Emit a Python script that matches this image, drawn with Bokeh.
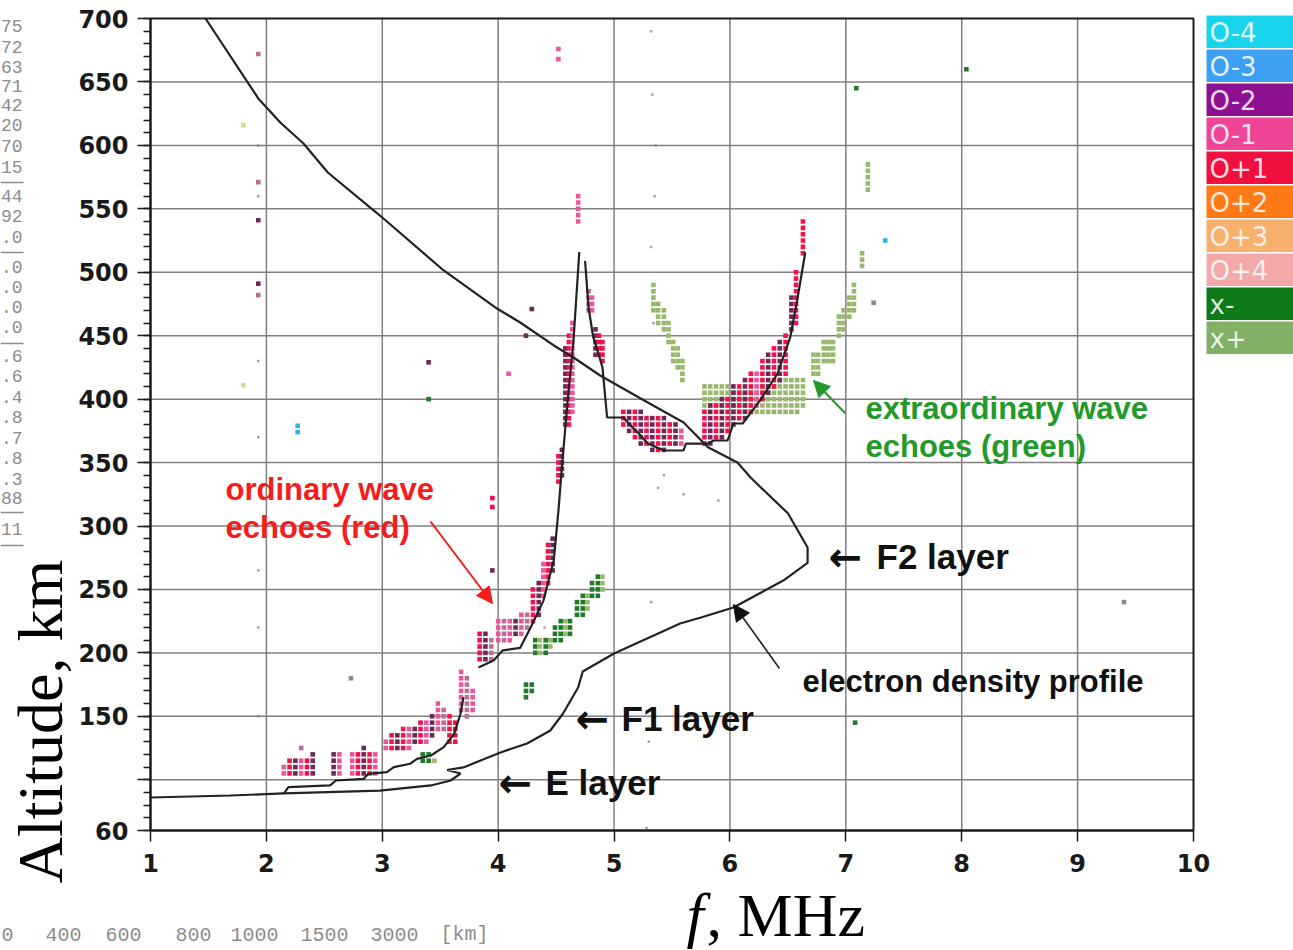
import numpy as np
from math import pi
from bokeh.plotting import figure
from bokeh.models import Range1d, FixedTicker, Label, Arrow, NormalHead, ColumnDataSource, LinearAxis
from bokeh.core.properties import value
from bokeh.embed import file_html
from bokeh.resources import INLINE

# ---------------- data ----------------
x_ticks = [1, 2, 3, 4, 5, 6, 7, 8, 9, 10]
y_ticks = [60, 100, 150, 200, 250, 300, 350, 400, 450, 500, 550, 600, 650, 700]
y_minor = list(range(60, 701, 10))

# electron density profile (plasma frequency MHz, true height km)
prof_f = [1.0, 1.69, 2.15, 2.98, 3.42, 3.59, 3.675, 3.56, 3.70, 4.02, 4.25, 4.45, 4.56, 4.69, 4.73,
          5.0, 5.57, 5.75, 6.03, 6.46, 6.67, 6.67, 6.50, 6.18, 6.065, 5.81, 5.60, 5.23, 4.88, 4.65,
          4.48, 4.19, 3.99, 3.53, 2.98, 2.53, 2.32, 2.12, 1.93, 1.475]
prof_h = [86, 87.6, 89.2, 91.5, 95.5, 99.4, 104.9, 107.7, 109.7, 121.5, 128.6, 138.8, 152.2, 172.7, 185.3,
          199.5, 223.2, 227.9, 235.8, 257, 271, 283, 310, 338, 350, 362, 381.6, 400.5, 418.6, 432.8,
          442.3, 460.4, 471.4, 501.4, 544.7, 578.6, 601.5, 618, 637, 700]

# virtual-height trace, E region (stepped)
ve_f = [2.15, 2.19, 2.55, 2.60, 2.84, 2.88, 3.04, 3.10, 3.24, 3.30, 3.42, 3.53, 3.62, 3.675, 3.70]
ve_h = [89, 94.2, 95.5, 99.4, 100.7, 104.7, 106, 110, 112.6, 116.5, 119.1, 125.7, 136.2, 152, 165]

# virtual-height trace, F region: rising branch and falling branch
vf1_f = [3.83, 3.96, 4.04, 4.19, 4.28, 4.39, 4.48, 4.52, 4.555, 4.60, 4.65, 4.70]
vf1_h = [188.5, 194, 202, 204, 220, 241, 273, 312, 352, 399, 446, 516]
vf2_f = [4.75, 4.78, 4.82, 4.865, 4.90, 4.94, 5.08, 5.16, 5.23, 5.29, 5.43, 5.60, 5.62, 5.81, 5.86,
         5.98, 6.03, 6.11, 6.26, 6.41, 6.52, 6.58, 6.65]
vf2_h = [509, 472, 449, 436, 425, 385.5, 385.5, 377.6, 371.3, 365, 359.5, 359.5, 365, 365, 367.4,
         367.4, 380.8, 380.8, 399, 420, 448.6, 477.7, 515.6]

# echo columns: (frequency MHz, lowest km, highest km, colour key)
e_o_runs = [
    (2.15, 105, 110, 'p'), (2.20, 105, 115, 'r'), (2.25, 105, 115, 'd'), (2.30, 105, 115, 'p'),
    (2.35, 105, 115, 'r'), (2.40, 105, 120, 'd'), (2.30, 125, 125, 'm'),
    (2.58, 105, 120, 'd'), (2.63, 105, 120, 'p'),
    (2.74, 105, 120, 'p'), (2.79, 105, 120, 'r'), (2.84, 105, 125, 'd'), (2.89, 105, 120, 'r'), (2.94, 105, 120, 'p'),
    (3.03, 125, 130, 'p'), (3.08, 125, 135, 'r'), (3.13, 125, 135, 'd'), (3.18, 125, 140, 'r'),
    (3.23, 125, 140, 'p'), (3.28, 130, 140, 'd'), (3.33, 130, 145, 'r'), (3.38, 130, 145, 'p'),
    (3.43, 135, 150, 'd'), (3.48, 140, 160, 'p'), (3.53, 140, 155, 'm'), (3.58, 130, 150, 'r'),
    (3.63, 130, 145, 'r'), (3.68, 155, 185, 'p'), (3.73, 150, 180, 'm'), (3.78, 155, 170, 'p'),
]
f_o_runs = [
    (3.84, 195, 215, 'r'), (3.89, 195, 215, 'd'), (3.94, 195, 210, 'm'),
    (4.00, 210, 225, 'p'), (4.05, 210, 225, 'm'), (4.10, 210, 225, 'p'), (4.15, 215, 225, 'd'),
    (4.20, 215, 230, 'p'), (4.25, 220, 230, 'm'),
    (4.30, 225, 250, 'r'), (4.35, 230, 255, 'd'), (4.39, 245, 270, 'p'), (4.43, 255, 285, 'r'), (4.47, 265, 290, 'd'),
    (4.52, 335, 355, 'r'), (4.55, 340, 360, 'd'),
    (4.58, 380, 440, 'd'), (4.61, 380, 450, 'r'), (4.64, 390, 460, 'p'),
    (4.69, 540, 560, 'p'),
    (4.78, 470, 485, 'm'), (4.81, 470, 480, 'p'),
    (4.84, 435, 455, 'd'), (4.87, 435, 450, 'r'), (4.90, 430, 445, 'r'),
]
trough_o_runs = [
    (5.08, 380, 390, 'r'), (5.13, 375, 390, 'd'), (5.18, 370, 390, 'r'), (5.23, 365, 390, 'd'),
    (5.28, 365, 385, 'r'), (5.33, 360, 385, 'd'), (5.38, 360, 385, 'r'), (5.43, 360, 385, 'd'),
    (5.48, 365, 380, 'r'), (5.53, 365, 380, 'd'), (5.58, 365, 375, 'p'),
    (5.78, 365, 390, 'r'), (5.83, 365, 395, 'd'), (5.88, 370, 395, 'r'), (5.93, 370, 400, 'd'), (5.98, 375, 400, 'r'),
    (6.03, 380, 410, 'd'), (6.08, 385, 410, 'r'), (6.13, 385, 415, 'd'), (6.18, 390, 420, 'r'), (6.23, 395, 420, 'p'),
    (6.28, 400, 430, 'r'), (6.33, 405, 435, 'd'), (6.38, 410, 440, 'r'), (6.43, 415, 445, 'd'), (6.48, 420, 450, 'r'),
    (6.53, 455, 480, 'd'), (6.57, 460, 500, 'r'), (6.63, 515, 540, 'r'),
]
x_lower_runs = [
    (3.35, 115, 120, 'g'), (3.40, 115, 120, 'g'), (3.45, 115, 115, 'l'),
    (4.24, 165, 175, 'g'), (4.29, 170, 175, 'g'),
    (4.32, 200, 210, 'g'), (4.36, 200, 210, 'l'), (4.41, 200, 210, 'g'), (4.45, 205, 210, 'l'),
    (4.49, 210, 220, 'g'), (4.54, 210, 225, 'g'), (4.58, 215, 225, 'l'), (4.62, 215, 225, 'g'),
    (4.68, 230, 240, 'g'), (4.73, 230, 245, 'g'), (4.77, 235, 245, 'l'),
    (4.81, 245, 255, 'g'), (4.86, 245, 260, 'g'), (4.90, 250, 260, 'l'),
]
x_upper_runs = [
    (5.34, 470, 490, 'l'), (5.38, 460, 475, 'l'), (5.43, 455, 470, 'l'), (5.47, 445, 460, 'l'),
    (5.51, 430, 445, 'l'), (5.55, 425, 440, 'l'), (5.59, 415, 430, 'l'),
    (5.78, 395, 410, 'l'), (5.83, 395, 410, 'l'), (5.88, 395, 410, 'l'), (5.93, 395, 410, 'l'),
    (5.98, 395, 410, 'l'), (6.03, 390, 405, 'l'), (6.08, 390, 405, 'l'), (6.13, 390, 405, 'l'),
    (6.18, 390, 405, 'l'), (6.23, 390, 405, 'l'), (6.28, 390, 410, 'l'), (6.33, 390, 410, 'l'),
    (6.38, 390, 410, 'l'), (6.43, 390, 415, 'l'), (6.48, 390, 415, 'l'), (6.53, 390, 415, 'l'),
    (6.58, 390, 415, 'l'), (6.63, 395, 415, 'l'),
    (6.72, 420, 435, 'l'), (6.76, 420, 435, 'l'), (6.81, 430, 445, 'l'), (6.85, 430, 445, 'l'),
    (6.89, 430, 445, 'l'), (6.94, 450, 465, 'l'), (6.98, 455, 470, 'l'), (7.03, 465, 480, 'l'),
    (7.07, 470, 490, 'l'), (7.14, 505, 515, 'l'), (7.19, 565, 585, 'l'),
]
# isolated echoes
iso_f = [1.93, 1.80, 1.93, 1.93, 1.93, 1.93, 4.52, 4.52, 4.29, 4.24, 3.40, 3.40, 4.09, 3.95, 3.95, 3.95,
         7.09, 8.04, 7.34, 7.24, 2.27, 2.27, 1.80, 2.73, 9.40, 7.08]
iso_h = [672, 616, 571, 541, 491, 482, 676, 668, 471, 450, 429, 400, 420, 322, 315, 265,
         645, 660, 525, 476, 379, 374, 411, 180, 240, 145]
iso_c = ['m', 'y', 'm', 'd', 'd', 'm', 'p', 'p', 'd', 'd', 'd', 'g', 'p', 'r', 'r', 'd',
         'g', 'g', 'c', 'k', 'c', 'c', 'y', 'k', 'k', 'g']
# faint specks
speck_f = [1.93, 1.93, 1.93, 1.93, 1.93, 1.93, 1.93, 5.32, 5.33, 5.35, 5.32, 5.34, 5.38, 5.43, 5.32,
           5.30, 5.28, 5.60, 4.40, 5.36, 5.90]
speck_h = [600, 560, 430, 370, 265, 220, 150, 690, 640, 560, 520, 460, 330, 340, 240,
           130, 62, 325, 220, 600, 320]

# legend
leg_labels = ['O-4', 'O-3', 'O-2', 'O-1', 'O+1', 'O+2', 'O+3', 'O+4', 'x-', 'x+']
leg_colors = ['#1ad4ee', '#3c9ff0', '#8c1090', '#ef4597', '#ef1040', '#ff7a14', '#f7b06e', '#f3a9a9',
              '#0f7a1a', '#82b066']

# margin remnants of the original ionogram printout
side_vals = ['75', '72', '63', '71', '42', '20', '70', '15', '44', '92', '.0', '.0', '.0', '.0',
             '.0', '.6', '.6', '.4', '.8', '.7', '.8', '.3', '88', '11']
side_rows = [25, 46, 66, 85, 104, 124, 145, 166, 195, 215, 236, 266, 286, 306, 326, 355, 375, 396,
             416, 437, 457, 478, 497, 528]
side_rules = [182, 252, 343, 512, 545]
range_vals = ['0', '400', '600', '800', '1000', '1500', '3000', '[km]']
range_px = [1, 45, 105, 175, 230, 300, 370, 440]

dot_colors = {'r': '#f5104a', 'd': '#6e2a56', 'p': '#ea559c', 'm': '#b86f98',
              'g': '#1f7a2a', 'l': '#98b86e', 'c': '#2ab8e0', 'k': '#8a8a8a', 'y': '#d8d890'}

# ---------------- page geometry (pixels) ----------------
W, H = 1293, 950
FL, FT, FW, FH = 150, 18, 1043, 812


def X(px):
    return 1 + (px - FL) * 9.0 / FW


def Y(py):
    return 700 - (py - FT) * 640.0 / FH


def expand(runs):
    xs, ys, cs = [], [], []
    for f, lo, hi, c in runs:
        for h in np.arange(lo, hi + 0.1, 5):
            xs.append(f)
            ys.append(float(h))
            cs.append(dot_colors[c])
    return xs, ys, cs


p = figure(width=W, height=H, x_range=Range1d(X(0), X(W)), y_range=Range1d(Y(H), Y(0)),
           output_backend="svg", toolbar_location=None, min_border=0,
           x_axis_location=None, y_axis_location=None,
           background_fill_color="white", border_fill_color="white")
p.outline_line_color = None
p.xgrid.visible = False
p.ygrid.visible = False

# real axes, pinned to the data edges of the plot box
xax = LinearAxis(fixed_location=60, bounds=(1, 10), ticker=FixedTicker(ticks=x_ticks, minor_ticks=[]))
yax = LinearAxis(fixed_location=1, bounds=(60, 700), ticker=FixedTicker(ticks=y_ticks, minor_ticks=y_minor))
yax.major_label_overrides = {100: ""}
for ax in (xax, yax):
    ax.axis_line_color = "#1a1a1a"
    ax.axis_line_width = 2
    ax.major_tick_line_color = "#1a1a1a"
    ax.major_tick_line_width = 1.5
    ax.minor_tick_line_color = "#1a1a1a"
    ax.minor_tick_line_width = 1.5
    ax.major_tick_in = 0
    ax.minor_tick_in = 0
    ax.major_label_text_font = "DejaVu Sans"
    ax.major_label_text_font_style = "bold"
    ax.major_label_text_font_size = "24px"
    ax.major_label_text_color = "#1a1a1a"
yax.major_tick_out = 13
yax.minor_tick_out = 7
yax.major_label_standoff = 9
xax.major_tick_out = 11
xax.minor_tick_line_color = None
xax.major_label_standoff = 12
p.add_layout(xax, "below")
p.add_layout(yax, "left")

# grid lines at the tick values, inside the plot box
p.segment(x0=x_ticks[1:-1], y0=60, x1=x_ticks[1:-1], y1=700, line_color="#808080", line_width=1.5)
p.segment(x0=1, y0=y_ticks[1:-1], x1=10, y1=y_ticks[1:-1], line_color="#808080", line_width=1.5)

# echoes (x first, then o on top)
for runs in (x_lower_runs, x_upper_runs):
    xs, ys, cs = expand(runs)
    p.scatter(xs, ys, marker="square", size=4.6, fill_color=cs, line_color=None)
for runs in (e_o_runs, f_o_runs, trough_o_runs):
    xs, ys, cs = expand(runs)
    p.scatter(xs, ys, marker="square", size=4.6, fill_color=cs, line_color=None)
p.scatter(iso_f, iso_h, marker="square", size=4.6, fill_color=[dot_colors[c] for c in iso_c], line_color=None)
p.scatter(speck_f, speck_h, marker="square", size=2.5, fill_color="#8a7090", line_color=None, fill_alpha=0.7)

# traces
p.line(prof_f, prof_h, line_color="#222222", line_width=2.2)
p.line(ve_f, ve_h, line_color="#222222", line_width=2.2)
p.line(vf1_f, vf1_h, line_color="#222222", line_width=2.2)
p.line(vf2_f, vf2_h, line_color="#222222", line_width=2.2)

# plot box (top and right edges; left and bottom are the axes)
p.quad(left=1, right=10, bottom=60, top=700, fill_color=None, line_color="#1a1a1a", line_width=2)


# annotations (py is the wanted baseline in page pixels; the renderer drops
# "alphabetic" text by about 0.31 em, so it is compensated here)
def lab(px, py, text, size, color="#111111", bold=True, font="Liberation Sans", **kw):
    baseline = kw.pop("baseline", "alphabetic")
    angle = kw.get("angle", 0)
    if baseline == "alphabetic":
        if angle:
            px = px - 0.31 * size
        else:
            py = py - 0.31 * size
    p.add_layout(Label(x=X(px), y=Y(py), text=text, text_font=font, text_font_size=f"{size}px",
                       text_font_style=kw.pop("style", "bold" if bold else "normal"), text_color=color,
                       text_baseline=baseline, text_align=kw.pop("align", "left"), **kw))


red = "#f41c1c"
green = "#229a2a"
lab(225, 499, "ordinary wave", 31, red)
lab(225, 537, "echoes (red)", 31, red)
lab(865, 418, "extraordinary wave", 31, green)
lab(865, 456, "echoes (green)", 31, green)
lab(802, 691, "electron density profile", 31)
lab(828, 569, "\u2190", 40, font="DejaVu Sans")
lab(876, 567, "F2 layer", 35)
lab(575, 731, "\u2190", 40, font="DejaVu Sans")
lab(621, 729, "F1 layer", 35)
lab(498, 795, "\u2190", 40, font="DejaVu Sans")
lab(545, 793, "E layer", 35)

p.add_layout(Arrow(end=NormalHead(size=16, fill_color=red, line_color=red),
                   x_start=X(430), y_start=Y(521), x_end=X(492), y_end=Y(603),
                   line_color=red, line_width=2))
p.add_layout(Arrow(end=NormalHead(size=16, fill_color=green, line_color=green),
                   x_start=X(845), y_start=Y(413), x_end=X(813), y_end=Y(380),
                   line_color=green, line_width=2))
p.add_layout(Arrow(end=NormalHead(size=16, fill_color="#111111", line_color="#111111"),
                   x_start=X(779), y_start=Y(668), x_end=X(733), y_end=Y(604),
                   line_color="#222222", line_width=1.6))

# axis titles
lab(60, 721, "Altitude, km", 64, "#000000", bold=False, font="Liberation Serif", angle=pi / 2, align="center")
lab(686, 934, "f", 62, "#000000", font="Liberation Serif", style="italic")
lab(706, 934, ", MHz", 62, "#000000", bold=False, font="Liberation Serif")

# margin remnants
for t, r in zip(side_vals, side_rows):
    lab(22, r, t, 18, "#8c8c8c", bold=False, font="Liberation Mono", align="right", baseline="middle")
p.segment(x0=X(0), y0=[Y(r) for r in side_rules], x1=X(23), y1=[Y(r) for r in side_rules],
          line_color="#8c8c8c", line_width=1.5)
for t, x in zip(range_vals, range_px):
    lab(x, 940, t, 20, "#8c8c8c", bold=False, font="Liberation Mono")

# ---------------- colour key on the right ----------------
tops = [15 + 34 * i for i in range(len(leg_labels))]
src = ColumnDataSource(dict(top=[Y(t) for t in tops], bottom=[Y(t + 32.5) for t in tops],
                            col=leg_colors, lab=leg_labels, ty=[Y(t + 17) for t in tops]))
p.quad(left=X(1206), right=X(W), top="top", bottom="bottom", fill_color="col", line_color=None, source=src)
p.text(x=X(1209), y="ty", text="lab", text_font=value("DejaVu Sans"), text_font_size="26px",
       text_color="white", text_alpha=0.85, text_baseline="middle", source=src)

open("out.html", "w").write(file_html(p, INLINE))
